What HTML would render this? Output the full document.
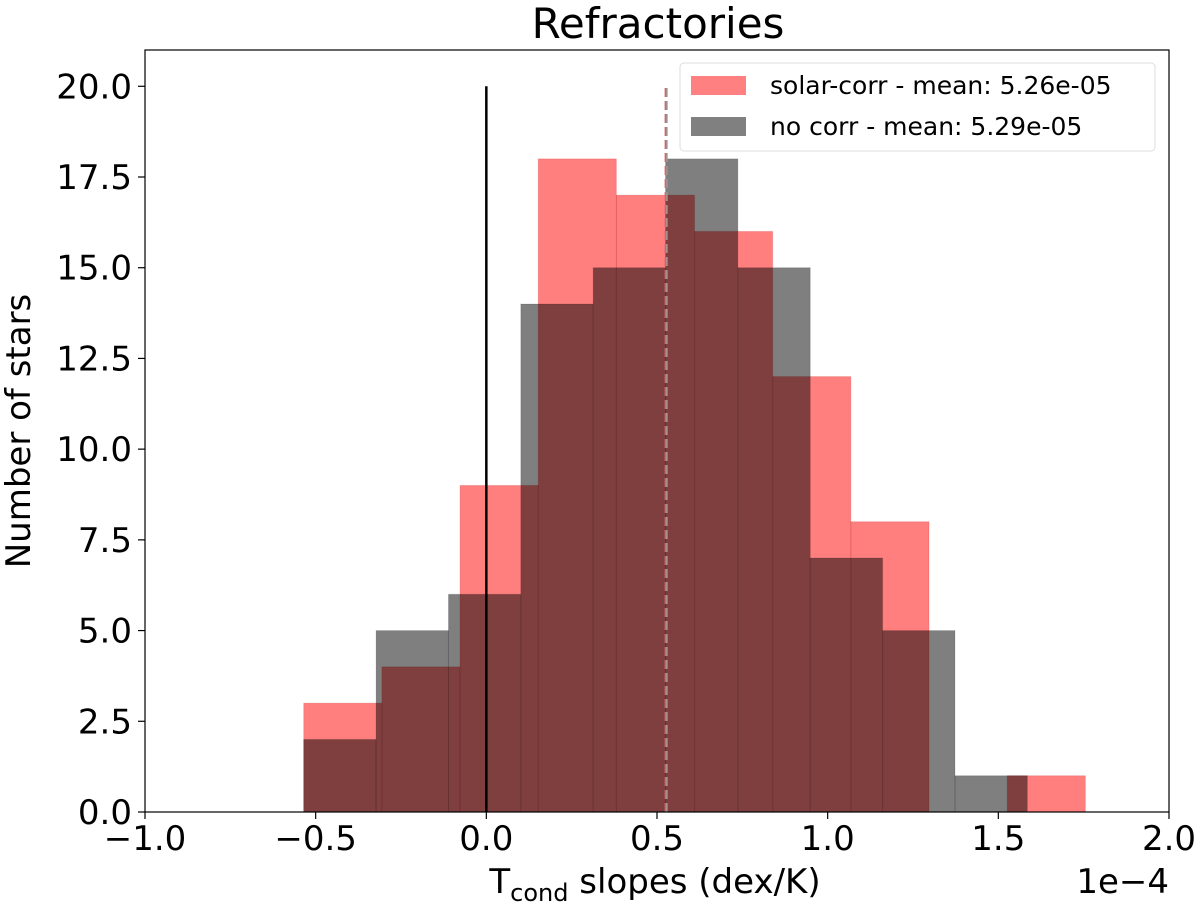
<!DOCTYPE html>
<html><head><meta charset="utf-8"><style>
body{margin:0;background:#fff;width:1200px;height:906px;overflow:hidden}
svg text{font-family:"DejaVu Sans","Liberation Sans",sans-serif;fill:#000}
</style></head><body>
<svg id="chart" width="1200" height="906" viewBox="0 0 1200 906" xmlns="http://www.w3.org/2000/svg"></svg>
<script>
const redEdges = [-0.535, -0.306, -0.077, 0.152, 0.381, 0.610, 0.839, 1.068, 1.297, 1.526, 1.755];
const redCounts = [3, 4, 9, 18, 17, 16, 12, 8, 0, 1];
const grayEdges = [-0.535, -0.323, -0.111, 0.101, 0.313, 0.525, 0.737, 0.949, 1.161, 1.373, 1.585];
const grayCounts = [2, 5, 6, 14, 15, 18, 15, 7, 5, 1];
const xTicks = [-1.0, -0.5, 0.0, 0.5, 1.0, 1.5, 2.0];
const xTickLabels = ["\u22121.0", "\u22120.5", "0.0", "0.5", "1.0", "1.5", "2.0"];
const yTicks = [0, 2.5, 5, 7.5, 10, 12.5, 15, 17.5, 20];
const yTickLabels = ["0.0", "2.5", "5.0", "7.5", "10.0", "12.5", "15.0", "17.5", "20.0"];
const meanRed = 0.526, meanGray = 0.529;

const L=145,R=1169,T=50,B=812;
const X=v=>L+(v+1)/3*(R-L);
const Y=v=>B-v/21*(B-T);
const svg=document.getElementById('chart');
const NS='http://www.w3.org/2000/svg';
function mk(tag,attrs,parent){const e=document.createElementNS(NS,tag);for(const k in attrs)e.setAttribute(k,attrs[k]);(parent||svg).appendChild(e);return e;}

const title=mk('text',{x:658,y:38,'font-size':42,'text-anchor':'middle'});
title.textContent='Refractories';



const gRed=mk('g',{});


redCounts.forEach((c,i)=>{if(!c)return;
 const r=mk('rect',{x:X(redEdges[i]),y:Y(c),width:X(redEdges[i+1])-X(redEdges[i]),height:Y(0)-Y(c),fill:'#ff0000','fill-opacity':0.5,stroke:'#a00000','stroke-opacity':0.15,'stroke-width':1},gRed);
 
 
});
const gGray=mk('g',{});


grayCounts.forEach((c,i)=>{if(!c)return;
 const r=mk('rect',{x:X(grayEdges[i]),y:Y(c),width:X(grayEdges[i+1])-X(grayEdges[i]),height:Y(0)-Y(c),fill:'#000000','fill-opacity':0.5,stroke:'#000','stroke-opacity':0.12,'stroke-width':1},gGray);
 
 
});

const zl=mk('line',{x1:X(0),x2:X(0),y1:Y(0),y2:Y(20),stroke:'#000','stroke-width':2.5});


const m1=mk('line',{x1:X(meanRed),x2:X(meanRed),y1:Y(0),y2:Y(20),stroke:'#e06060','stroke-width':2.5,'stroke-dasharray':'9,4'});


const m2=mk('line',{x1:X(meanGray),x2:X(meanGray),y1:Y(0),y2:Y(20),stroke:'#999','stroke-width':1.5,'stroke-dasharray':'9,4'});



const frame=mk('rect',{x:L,y:T,width:R-L,height:B-T,fill:'none',stroke:'#000','stroke-width':1.2});



xTicks.forEach((v,i)=>{
 mk('line',{x1:X(v),x2:X(v),y1:B,y2:B+7,stroke:'#000','stroke-width':1.2});
 const t=mk('text',{x:X(v),y:B+38,'font-size':34,'text-anchor':'middle'});
 t.textContent=xTickLabels[i];
 
 
});
yTicks.forEach((v,i)=>{
 mk('line',{x1:L-7,x2:L,y1:Y(v),y2:Y(v),stroke:'#000','stroke-width':1.2});
 const t=mk('text',{x:L-13,y:Y(v)+12,'font-size':34,'text-anchor':'end'});
 t.textContent=yTickLabels[i];
 
 
});

const xt=mk('text',{x:655,y:893,'font-size':34,'text-anchor':'middle'});
xt.innerHTML='T<tspan font-size="24" dy="8">cond</tspan><tspan dy="-8"> slopes (dex/K)</tspan>';


const off=mk('text',{x:R,y:893,'font-size':34,'text-anchor':'end'});
off.textContent='1e\u22124';


const yt=mk('text',{x:0,y:0,'font-size':34,'text-anchor':'middle',transform:'translate(30,431) rotate(-90)'});
yt.textContent='Number of stars';



const lg=mk('g',{});


mk('rect',{x:680,y:63,width:475,height:88,rx:4,fill:'#fff','fill-opacity':0.8,stroke:'#ddd','stroke-width':1},lg);
const e1=mk('g',{},lg);


mk('rect',{x:691,y:76,width:55,height:19,fill:'#ff8080'},e1);
const l1=mk('text',{x:770,y:94,'font-size':25},e1);l1.textContent='solar-corr - mean: 5.26e-05';
const e2=mk('g',{},lg);


mk('rect',{x:691,y:117,width:55,height:19,fill:'#808080'},e2);
const l2=mk('text',{x:770,y:135,'font-size':25},e2);l2.textContent='no corr - mean: 5.29e-05';
</script>
</body></html>
